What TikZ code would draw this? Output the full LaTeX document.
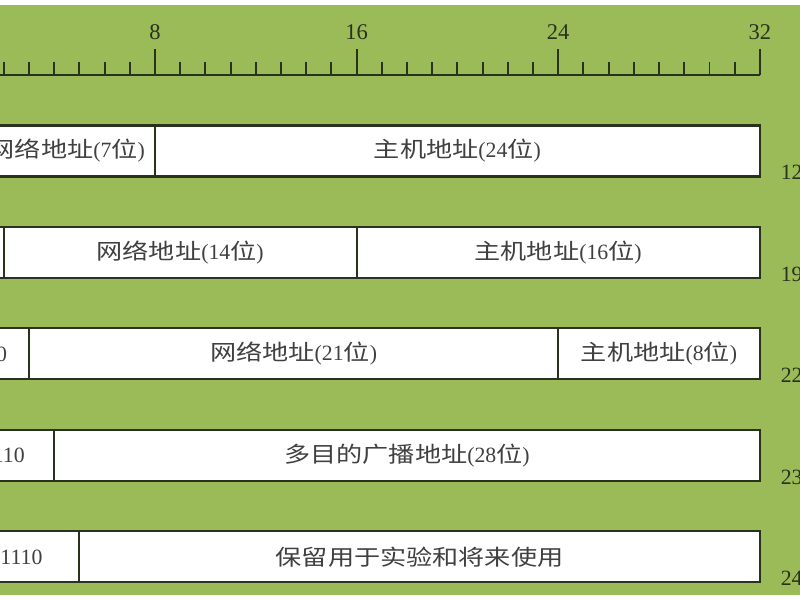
\documentclass[tikz,border=0pt]{standalone}
\usepackage{fontspec}
\setmainfont{Liberation Serif}
\newfontfamily\cjk[FakeStretch=1.2]{Noto Sans CJK SC}
\newcommand{\field}[2]{{\cjk #1}(#2{\cjk 位})}
\definecolor{bggreen}{HTML}{9BBB59}
\definecolor{inkline}{HTML}{28321C}

\tikzset{%
        every field/.style={
            rectangle,
            draw=inkline,
            fill=white,
            line width=1.5pt,
            minimum height=1.275cm,
            inner sep=0pt,
            text=black!75,
            font=\fontsize{15.5}{18}\selectfont
        },
        ruler/.style={
            draw=inkline,
            line width=1.3pt
        },
        iprange/.style={
            anchor=base west,
            text=inkline,
            font=\fontsize{15.5}{18}\selectfont
        },
    }

\begin{document}
\begin{tikzpicture}

        \useasboundingbox (0,0) rectangle (20,-15);
        \clip (0,0) rectangle (20,-15);
        \fill [white] (0,0) rectangle (20,-15);
        \fill [bggreen] (0,-0.125) rectangle (20,-14.875);

    \begin{scope}[x=0.63cm, y=-0.025cm, xshift=-1.165cm]

        % bit ruler
        \draw [ruler] (0,75) -- (32,75);
        \foreach \b in {0,...,32}
            \draw [ruler] (\b,75) -- (\b,62);
        \foreach \b in {8,16,24,32}
            \draw [ruler] (\b,75) -- (\b,49)
                node [above=1mm, text=inkline, font=\fontsize{16}{18}\selectfont] (mark-\b) {\b};

        % address classes
        \foreach \r/\a/\b/\t in {
            1/0/1/{}, 1/1/8/{\field{网络地址}{7}}, 1/8/32/{\field{主机地址}{24}},
            2/0/2/{}, 2/2/16/{\field{网络地址}{14}}, 2/16/32/{\field{主机地址}{16}},
            3/0/3/110, 3/3/24/{\field{网络地址}{21}}, 3/24/32/{\field{主机地址}{8}},
            4/0/4/1110, 4/4/32/{\field{多目的广播地址}{28}},
            5/0/5/11110, 5/5/32/{\cjk 保留用于实验和将来使用}}
        {
            \pgfmathsetmacro\w{(\b-\a)*0.63}
            \node [every field, minimum width=\w cm] (field-\r-\a)
                at ({(\a+\b)/2}, {49.5+101.5*\r}) {\t};
        }

        \foreach \r/\a/\t in {1/8/12, 2/16/19, 3/24/22, 4/4/23, 5/5/24}
            \node [iprange] (range-\r)
                at ([xshift=0.375cm, yshift=-0.06cm] field-\r-\a.south east) {\t};

    \end{scope}
\end{tikzpicture}
\end{document}
